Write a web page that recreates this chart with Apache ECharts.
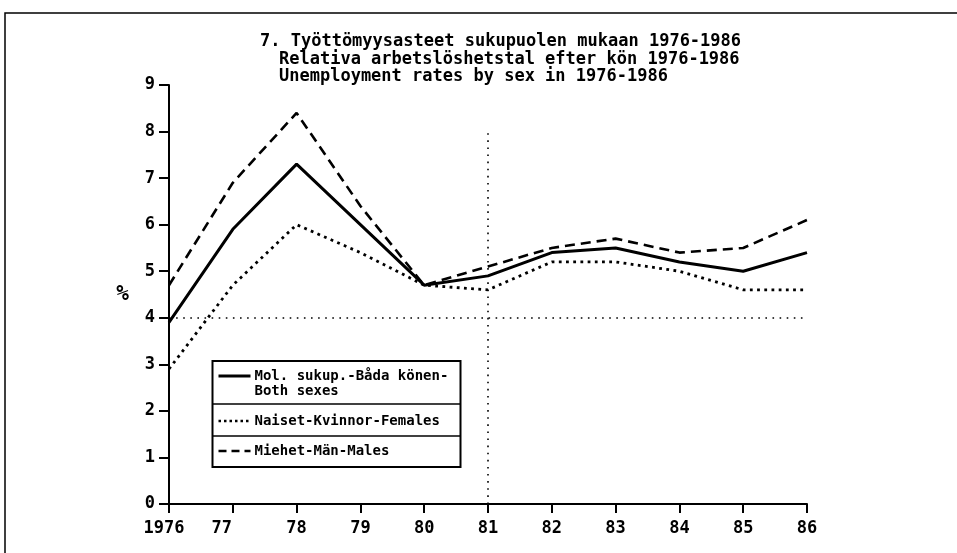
<!DOCTYPE html>
<html>
<head>
<meta charset="utf-8">
<title>Työttömyysasteet 1976-1986</title>
<script src="https://cdn.jsdelivr.net/npm/echarts@6/dist/echarts.min.js"></script>
<style>
  html, body { margin: 0; padding: 0; background: #fff; }
  #chart { width: 957px; height: 553px; }
</style>
</head>
<body>
<div id="chart"></div>
<script>
  // values
  var years = ['1976', '77', '78', '79', '80', '81', '82', '83', '84', '85', '86'];
  var bothSexes = [3.9, 5.9, 7.3, 6.0, 4.7, 4.9, 5.4, 5.5, 5.2, 5.0, 5.4];
  var females = [2.9, 4.7, 6.0, 5.4, 4.7, 4.6, 5.2, 5.2, 5.0, 4.6, 4.6];
  var males = [4.7, 6.9, 8.4, 6.4, 4.7, 5.1, 5.5, 5.7, 5.4, 5.5, 6.1];

  var titleLines = [
    '7. Työttömyysasteet sukupuolen mukaan 1976-1986',
    'Relativa arbetslöshetstal efter kön 1976-1986',
    'Unemployment rates by sex in 1976-1986'
  ];
  var legendLabels = [
    'Mol. sukup.-Båda könen-\nBoth sexes',
    'Naiset-Kvinnor-Females',
    'Miehet-Män-Males'
  ];
  var refLevel = 4;       // horizontal dotted line
  var refYear = '81';     // vertical dotted line
  var refYearTop = 8;

  var font = 'DejaVu Sans Mono';
  var ink = '#000';

  var chart = echarts.init(document.getElementById('chart'), null, {renderer: 'canvas'});

  var legendRow = function (y, dash, label, textY) {
    return [{
      type: 'line',
      shape: {x1: 6, y1: y, x2: 38, y2: y},
      style: {stroke: ink, lineWidth: dash === 'solid' ? 3 : 2.5, lineDash: dash === 'solid' ? null : dash}
    }, {
      type: 'text',
      x: 42, y: textY,
      style: {text: label, font: 'bold 14px "' + font + '"', fill: ink,
        verticalAlign: 'middle', lineHeight: 15}
    }];
  };

  var option = {
    animation: false,
    backgroundColor: '#fff',
    title: [{
      text: titleLines[0],
      left: 260, top: 33, padding: 0,
      textStyle: {fontFamily: font, fontSize: 17, fontWeight: 'bold', color: ink, lineHeight: 17.5}
    }, {
      text: titleLines[1] + '\n' + titleLines[2],
      left: 279, top: 50.5, padding: 0,
      textStyle: {fontFamily: font, fontSize: 17, fontWeight: 'bold', color: ink, lineHeight: 17.5}
    }],
    grid: {left: 169, right: 150, top: 85, bottom: 49, containLabel: false},
    xAxis: {
      type: 'category',
      data: years,
      boundaryGap: false,
      axisLine: {lineStyle: {color: ink, width: 2}},
      axisTick: {show: true, interval: 0, length: 9, lineStyle: {color: ink, width: 2}},
      axisLabel: {
        interval: 0,
        hideOverlap: false,
        color: ink, fontFamily: font, fontSize: 17, fontWeight: 'bold', margin: 16,
        // the scan has "77" and "1976" set a little left of their ticks
        formatter: function (v) {
          if (v === '77') return '{l|' + v + '}';
          if (v === '1976') return '{s|' + v + '}';
          return v;
        },
        rich: {
          l: {fontFamily: font, fontSize: 17, fontWeight: 'bold', color: ink, padding: [0, 22, 0, 0]},
          s: {fontFamily: font, fontSize: 17, fontWeight: 'bold', color: ink, padding: [0, 10, 0, 0]}
        }
      },
      splitLine: {show: false}
    },
    yAxis: {
      type: 'value',
      min: 0, max: 9, interval: 1,
      name: '%',
      nameLocation: 'middle',
      nameRotate: 0,
      nameGap: 40,
      nameTextStyle: {color: ink, fontFamily: font, fontSize: 21, fontWeight: 'bold', padding: [6, 0, 0, 0]},
      axisLine: {show: true, lineStyle: {color: ink, width: 2}},
      axisTick: {show: true, length: 10, lineStyle: {color: ink, width: 2}},
      axisLabel: {color: ink, fontFamily: font, fontSize: 17, fontWeight: 'bold', margin: 14},
      splitLine: {show: false}
    },
    series: [{
      name: 'Both sexes',
      type: 'line',
      data: bothSexes,
      showSymbol: false,
      lineStyle: {color: ink, width: 3, type: 'solid'},
      markLine: {
        silent: true,
        symbol: 'none',
        label: {show: false},
        lineStyle: {color: ink, width: 1.6, type: [1.6, 5.5]},
        data: [
          {yAxis: refLevel},
          [{coord: [refYear, 0]}, {coord: [refYear, refYearTop]}]
        ]
      },
      z: 3
    }, {
      name: 'Females',
      type: 'line',
      data: females,
      showSymbol: false,
      lineStyle: {color: ink, width: 2.8, type: [2.8, 4.4]},
      z: 2
    }, {
      name: 'Males',
      type: 'line',
      data: males,
      showSymbol: false,
      lineStyle: {color: ink, width: 2.6, type: [10, 6]},
      z: 2
    }],
    graphic: [{
      // page frame (left and top edges only show on the scan)
      type: 'polyline',
      shape: {points: [[5, 553], [5, 13], [957, 13]]},
      style: {stroke: ink, lineWidth: 1.5, fill: null},
      silent: true
    }, {
      type: 'group',
      left: 210, top: 360,
      children: [{
        type: 'rect',
        shape: {x: 0, y: 0, width: 248, height: 106},
        style: {fill: '#fff', stroke: ink, lineWidth: 2}
      }, {
        type: 'line', shape: {x1: 0, y1: 43, x2: 248, y2: 43},
        style: {stroke: ink, lineWidth: 1.5}
      }, {
        type: 'line', shape: {x1: 0, y1: 75, x2: 248, y2: 75},
        style: {stroke: ink, lineWidth: 1.5}
      }]
        .concat(legendRow(15, 'solid', legendLabels[0], 22.5))
        .concat(legendRow(60, [2.5, 3], legendLabels[1], 60))
        .concat(legendRow(90, [8, 5], legendLabels[2], 90))
    }]
  };

  chart.setOption(option);
</script>
</body>
</html>
